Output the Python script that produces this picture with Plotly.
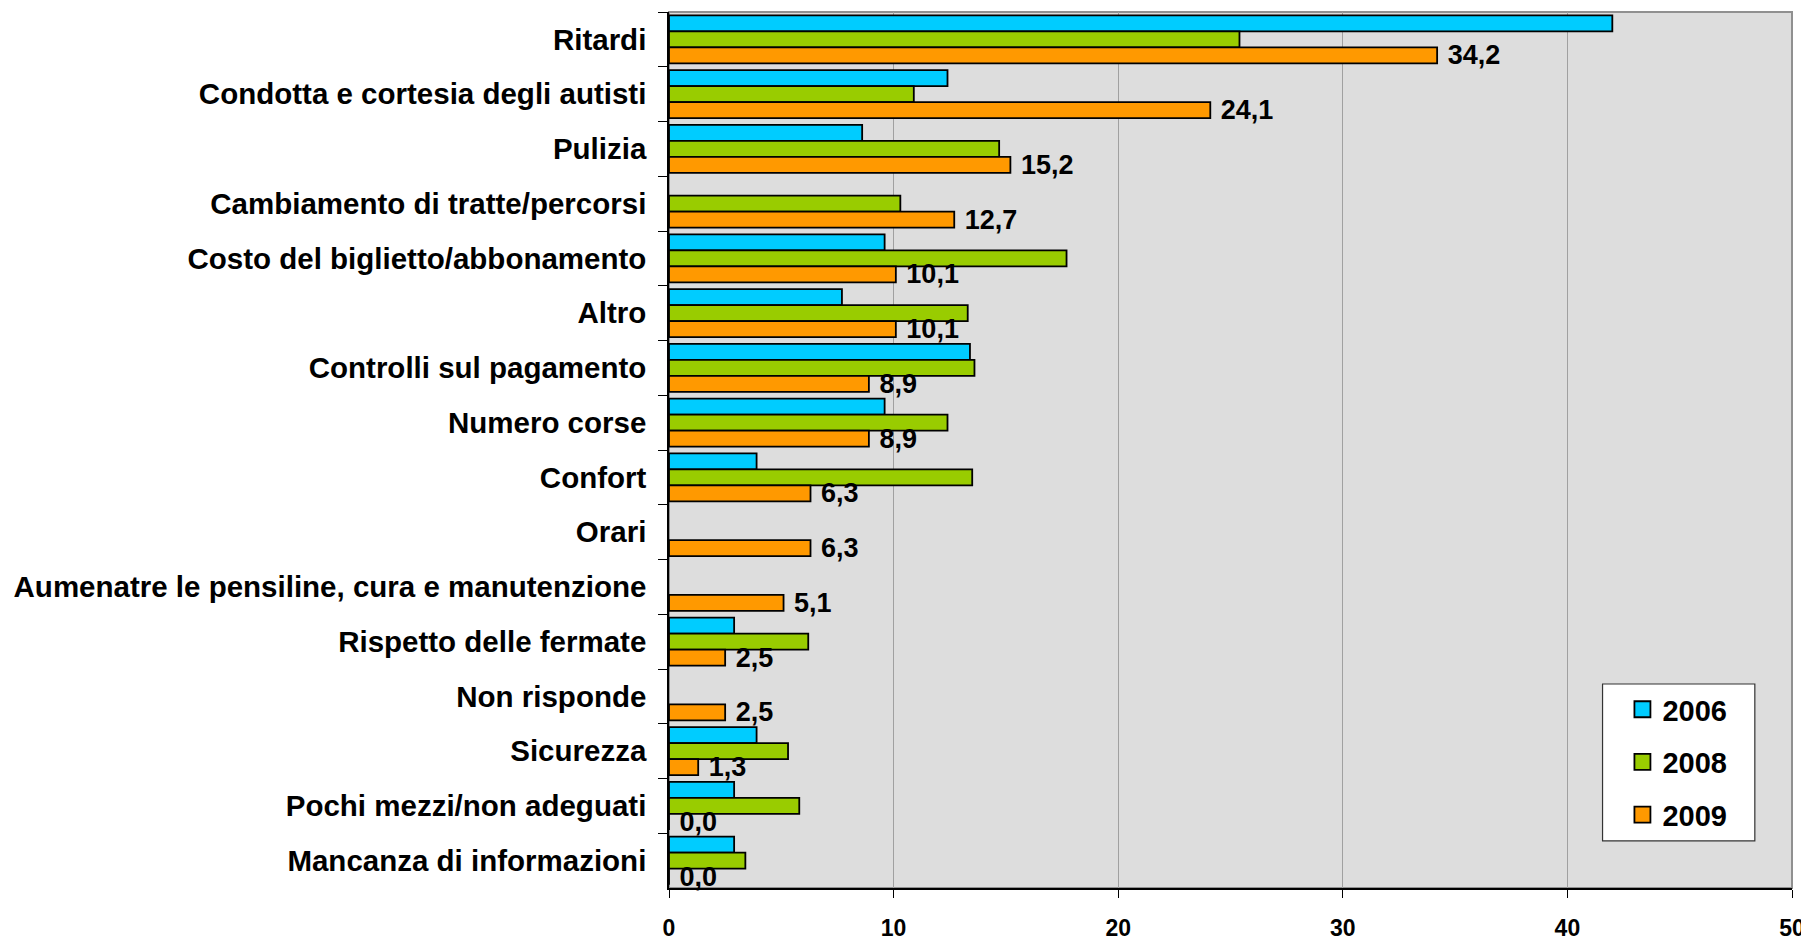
import plotly.graph_objects as go

categories = [
    "Ritardi",
    "Condotta e cortesia degli autisti",
    "Pulizia",
    "Cambiamento di tratte/percorsi",
    "Costo del biglietto/abbonamento",
    "Altro",
    "Controlli sul pagamento",
    "Numero corse",
    "Confort",
    "Orari",
    "Aumenatre le pensiline, cura e manutenzione",
    "Rispetto delle fermate",
    "Non risponde",
    "Sicurezza",
    "Pochi mezzi/non adeguati",
    "Mancanza di informazioni",
]
v2006 = [42.0, 12.4, 8.6, None, 9.6, 7.7, 13.4, 9.6, 3.9, None, None, 2.9, None, 3.9, 2.9, 2.9]
v2008 = [25.4, 10.9, 14.7, 10.3, 17.7, 13.3, 13.6, 12.4, 13.5, None, None, 6.2, None, 5.3, 5.8, 3.4]
v2009 = [34.2, 24.1, 15.2, 12.7, 10.1, 10.1, 8.9, 8.9, 6.3, 6.3, 5.1, 2.5, 2.5, 1.3, 0.0, 0.0]
years = ["2006", "2008", "2009"]
colors = ["#00CCFF", "#99CC00", "#FF9900"]

labels2009 = ["\u00a0" + f"{v:.1f}".replace(".", ",") for v in v2009]

FONT = "Liberation Sans, Arial, sans-serif"

fig = go.Figure()
for name, vals, col in zip(years, [v2006, v2008, v2009], colors):
    kw = {}
    if name == "2009":
        kw = dict(text=labels2009, textposition="outside", cliponaxis=False,
                  constraintext="none",
                  textfont=dict(family=FONT, size=27, color="black", weight="bold"))
    fig.add_trace(go.Bar(
        y=categories, x=vals, name=name, orientation="h",
        marker=dict(color=col, line=dict(color="black", width=1.8)),
        showlegend=False, **kw))
    # legend entry (square swatch)
    fig.add_trace(go.Scatter(
        x=[None], y=[None], mode="markers", name=name,
        marker=dict(symbol="square", size=17, color=col, line=dict(color="black", width=1.8)),
        legendgroup=name, showlegend=True))

fig.update_layout(
    width=1801, height=932,
    barmode="group", bargap=0.12, bargroupgap=0,
    plot_bgcolor="#DDDDDD", paper_bgcolor="white",
    margin=dict(l=661, r=17, t=4, b=52, autoexpand=False),
    font=dict(family=FONT, color="black"),
    showlegend=True,
    legend=dict(x=0.849, y=0.233, xanchor="left", yanchor="top",
                bgcolor="rgba(0,0,0,0)", borderwidth=0,
                font=dict(size=29, weight="bold", family=FONT),
                tracegroupgap=12, itemwidth=30),
)
fig.update_xaxes(range=[0, 50], dtick=10, showgrid=True, gridcolor="#A0A0A0", gridwidth=1,
                 zeroline=False, showline=True, linecolor="black", linewidth=1.5,
                 ticks="outside", ticklen=8, tickcolor="black",
                 tickfont=dict(size=23, weight="bold"), ticklabelstandoff=11)
fig.update_yaxes(autorange="reversed", showline=True, linecolor="black", linewidth=1.5,
                 ticks="outside", ticklen=9, tickcolor="black", tickson="boundaries",
                 showgrid=False, tickfont=dict(size=29.5, weight="bold"), ticklabelstandoff=15)
# gray border around plot area
fig.add_shape(type="rect", xref="paper", yref="paper", x0=0, x1=1, y0=0, y1=1,
              line=dict(color="#909090", width=2), layer="below")
# legend box
fig.add_shape(type="rect", xref="paper", yref="paper", x0=0.8313, x1=0.9669, y0=0.0537, y1=0.2329,
              line=dict(color="#333333", width=1.2), fillcolor="white", layer="above")

fig.write_html("out.html")
